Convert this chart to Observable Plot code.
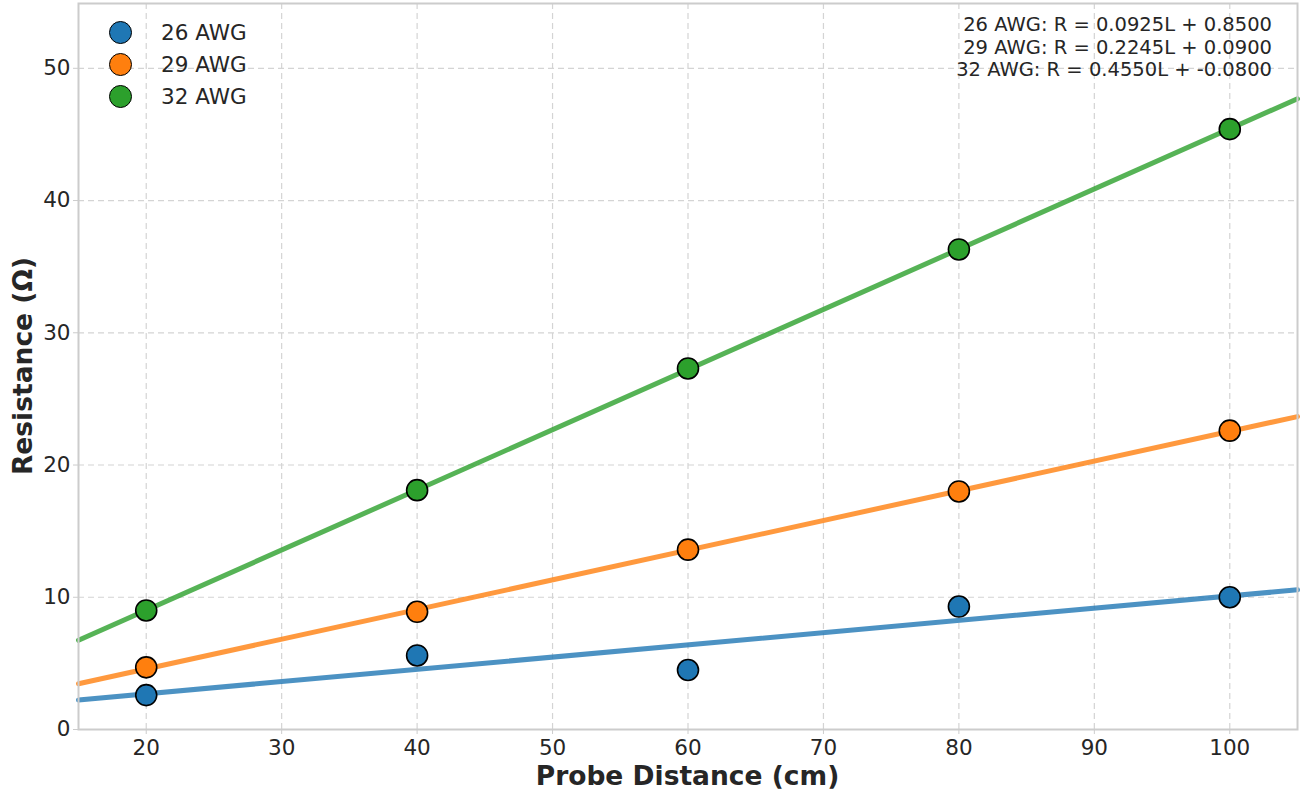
<!DOCTYPE html>
<html><head><meta charset="utf-8">
<script src="https://cdn.jsdelivr.net/npm/d3@7"></script>
<script src="https://cdn.jsdelivr.net/npm/@observablehq/plot@0.6"></script>
<style>
body{margin:0;background:#fff;font-family:"DejaVu Sans",sans-serif;}
#wrap{position:relative;width:1304px;height:794px;}
#wrap svg{position:absolute;left:0;top:0;}
.leg{position:absolute;left:109px;top:16px;}
.leg .row{display:flex;align-items:center;height:32px;}
.leg .sw{width:23px;height:23px;border-radius:50%;border:1.5px solid #000;box-sizing:border-box;margin-right:29px;}
.leg .lab{font-size:21.5px;color:#262626;}
.ann{position:absolute;right:32px;top:14px;text-align:right;font-size:19.5px;line-height:22.5px;color:#262626;}
.xt{position:absolute;left:78px;width:1219px;top:760px;text-align:center;font-weight:bold;font-size:26.5px;color:#262626;}
.yt{position:absolute;left:22px;top:366px;transform:translate(-50%,-50%) rotate(-90deg);font-weight:bold;font-size:26.5px;color:#262626;white-space:nowrap;}
</style>
</head><body><div id="wrap"></div>
<script>
const gauges = ["26 AWG", "29 AWG", "32 AWG"];
const colors = ["#1f77b4", "#ff7f0e", "#2ca02c"];
const distances = [20, 40, 60, 80, 100];
const r26 = [2.6, 5.6, 4.5, 9.3, 10.0];
const r29 = [4.7, 8.9, 13.6, 18.0, 22.6];
const r32 = [9.0, 18.1, 27.3, 36.3, 45.4];
const slopes = [0.0925, 0.2245, 0.4550];
const intercepts = [0.8500, 0.0900, -0.0800];
const fitRange = [15, 105];
const xTicks = [20, 30, 40, 50, 60, 70, 80, 90, 100];
const yTicks = [0, 10, 20, 30, 40, 50];
const xLabel = "Probe Distance (cm)";
const yLabel = "Resistance (Ω)";

const series = [r26, r29, r32];
const points = [];
series.forEach((vals, i) => vals.forEach((v, j) => points.push({gauge: gauges[i], x: distances[j], y: v})));
const fits = [];
gauges.forEach((g, i) => fitRange.forEach(x => fits.push({gauge: g, x, y: slopes[i] * x + intercepts[i]})));
const eqs = gauges.map((g, i) => `${g}: R = ${slopes[i].toFixed(4)}L + ${intercepts[i].toFixed(4)}`);

const chart = Plot.plot({
  width: 1304, height: 794,
  marginLeft: 78, marginRight: 7, marginTop: 3, marginBottom: 65,
  style: {fontFamily: "DejaVu Sans, sans-serif", background: "#fff"},
  x: {domain: [15, 105]},
  y: {domain: [0, 54.9]},
  color: {domain: gauges, range: colors},
  marks: [
    Plot.gridX(xTicks, {stroke: "#d4d4d4", strokeOpacity: 1, strokeDasharray: "6,4", strokeWidth: 1.2}),
    Plot.gridY(yTicks, {stroke: "#d4d4d4", strokeOpacity: 1, strokeDasharray: "6,4", strokeWidth: 1.2}),
    Plot.axisX({ticks: xTicks, tickSize: 5, tickPadding: 5, stroke: "#ccc", fill: "#262626", fontSize: 21.5, label: null}),
    Plot.axisY({ticks: yTicks, tickSize: 5, tickPadding: 3, stroke: "#ccc", fill: "#262626", fontSize: 21.5, label: null}),
    Plot.line(fits, {x: "x", y: "y", z: "gauge", stroke: "gauge", strokeWidth: 5, strokeOpacity: 0.8}),
    Plot.dot(points, {x: "x", y: "y", fill: "gauge", stroke: "#000", strokeWidth: 1.6, r: 10.5}),
    Plot.frame({stroke: "#cccccc", strokeWidth: 2})
  ]
});
const wrap = document.getElementById("wrap");
wrap.appendChild(chart);

const leg = document.createElement("div");
leg.className = "leg";
gauges.forEach((g, i) => {
  const row = document.createElement("div"); row.className = "row";
  const sw = document.createElement("div"); sw.className = "sw"; sw.style.background = colors[i];
  const lab = document.createElement("div"); lab.className = "lab"; lab.textContent = g;
  row.appendChild(sw); row.appendChild(lab); leg.appendChild(row);
});
wrap.appendChild(leg);

const ann = document.createElement("div");
ann.className = "ann";
eqs.forEach(e => { const d = document.createElement("div"); d.textContent = e; ann.appendChild(d); });
wrap.appendChild(ann);

const xt = document.createElement("div"); xt.className = "xt"; xt.textContent = xLabel; wrap.appendChild(xt);
const yt = document.createElement("div"); yt.className = "yt"; yt.textContent = yLabel; wrap.appendChild(yt);
</script>
</body></html>
